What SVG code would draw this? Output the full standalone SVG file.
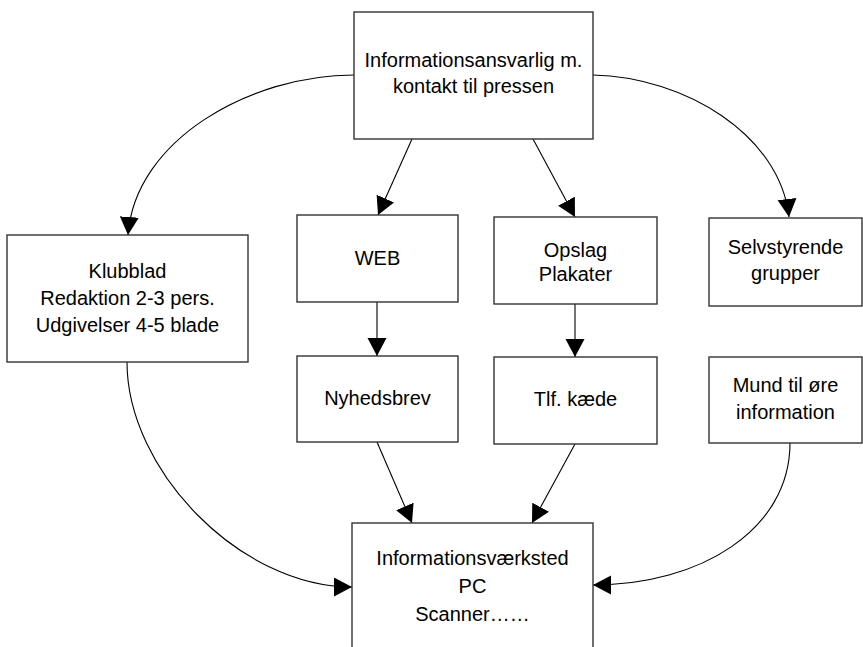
<svg xmlns="http://www.w3.org/2000/svg" width="863" height="647" viewBox="0 0 863 647">
<defs>
<style>
.box{fill:#fff;stroke:#333;stroke-width:1.4}
.t{font-family:"Liberation Sans",Arial,sans-serif;font-size:20px;fill:#000;text-anchor:middle}
.c{fill:none;stroke:#000;stroke-width:1.1}
</style>
<marker id="ah" markerUnits="userSpaceOnUse" markerWidth="20" markerHeight="20" refX="18" refY="9.5" orient="auto">
<path d="M0,0 L18,9.5 L0,19 z" fill="#000"/>
</marker>
</defs>
<rect width="863" height="647" fill="#fff"/>
<g id="connectors">
<path class="c" d="M354,75 C250,75 135,140 128,235" marker-end="url(#ah)"/>
<path class="c" d="M593,75 C685,77 780,135 789,217" marker-end="url(#ah)"/>
<path class="c" d="M412,139 L378,215" marker-end="url(#ah)"/>
<path class="c" d="M533,139 L575,217" marker-end="url(#ah)"/>
<path class="c" d="M377,302 L377,356" marker-end="url(#ah)"/>
<path class="c" d="M575,304 L575,357" marker-end="url(#ah)"/>
<path class="c" d="M377,442 L412,523" marker-end="url(#ah)"/>
<path class="c" d="M575,444 L532,523" marker-end="url(#ah)"/>
<path class="c" d="M127,362 C127,470 240,587 352,587" marker-end="url(#ah)"/>
<path class="c" d="M790,443 C790,530 700,585 593,585" marker-end="url(#ah)"/>
</g>
<g id="top">
<rect class="box" x="354" y="12" width="239" height="127"/>
<text class="t" x="473.5" y="67">Informationsansvarlig m.</text>
<text class="t" x="473.5" y="93">kontakt til pressen</text>
</g>
<g id="klubblad">
<rect class="box" x="7" y="235" width="241" height="127"/>
<text class="t" x="127.5" y="278">Klubblad</text>
<text class="t" x="127.5" y="305">Redaktion 2-3 pers.</text>
<text class="t" x="127.5" y="332">Udgivelser 4-5 blade</text>
</g>
<g id="web">
<rect class="box" x="297" y="215" width="161" height="87"/>
<text class="t" x="377.5" y="265">WEB</text>
</g>
<g id="opslag">
<rect class="box" x="494" y="217" width="163" height="87"/>
<text class="t" x="575.5" y="257">Opslag</text>
<text class="t" x="575.5" y="281">Plakater</text>
</g>
<g id="selvstyrende">
<rect class="box" x="709" y="218" width="153" height="88"/>
<text class="t" x="785.5" y="254">Selvstyrende</text>
<text class="t" x="785.5" y="280">grupper</text>
</g>
<g id="nyhedsbrev">
<rect class="box" x="297" y="356" width="161" height="86"/>
<text class="t" x="377.5" y="405">Nyhedsbrev</text>
</g>
<g id="tlf">
<rect class="box" x="494" y="357" width="163" height="87"/>
<text class="t" x="575.5" y="406">Tlf. kæde</text>
</g>
<g id="mund">
<rect class="box" x="709" y="357" width="153" height="86"/>
<text class="t" x="785.5" y="392">Mund til øre</text>
<text class="t" x="785.5" y="419">information</text>
</g>
<g id="vaerksted">
<rect class="box" x="352" y="523" width="241" height="140"/>
<text class="t" x="472.5" y="565">Informationsværksted</text>
<text class="t" x="472.5" y="593">PC</text>
<text class="t" x="472.5" y="621">Scanner……</text>
</g>
</svg>
